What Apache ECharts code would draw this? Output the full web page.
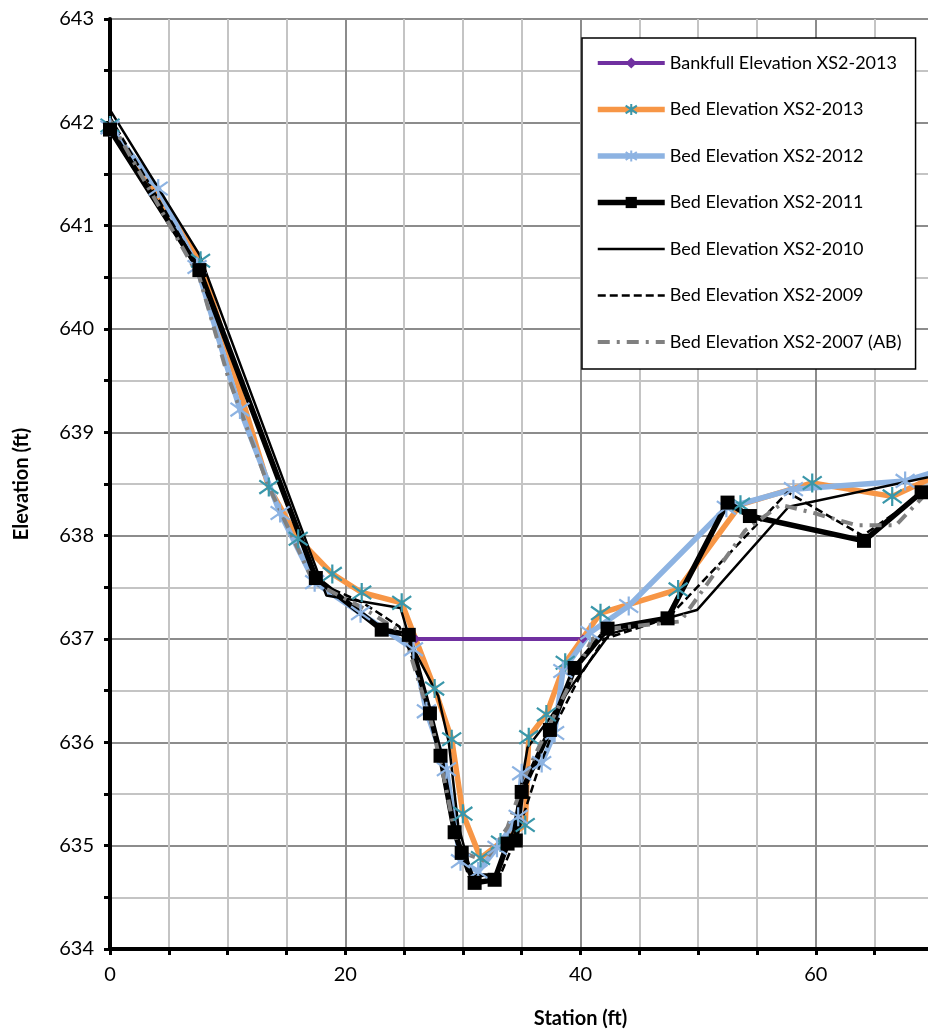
<!DOCTYPE html>
<html><head><meta charset="utf-8">
<script src="https://cdn.jsdelivr.net/npm/echarts@6/dist/echarts.min.js"></script>
<style>html,body{margin:0;padding:0;background:#fff}#c{width:928px;height:1033px}</style>
</head><body><div id="c"></div>
<script>
// ---- data (station ft, elevation ft) ----
const seriesNames = [
  'Bankfull Elevation XS2-2013',
  'Bed Elevation XS2-2013',
  'Bed Elevation XS2-2012',
  'Bed Elevation XS2-2011',
  'Bed Elevation XS2-2010',
  'Bed Elevation XS2-2009',
  'Bed Elevation XS2-2007 (AB)'
];
const bankfull2013 = [[26.0, 637.0], [40.2, 637.0]];
const bed2013 = [[0, 641.97], [7.7, 640.66], [13.5, 638.47], [16.0, 637.97], [18.9, 637.63], [21.4, 637.45],
  [24.8, 637.35], [27.6, 636.52], [29.05, 636.03], [30.0, 635.31], [31.5, 634.88], [33.2, 635.03],
  [35.3, 635.2], [35.6, 636.05], [37.1, 636.27], [38.7, 636.77], [41.7, 637.25], [48.3, 637.48],
  [53.6, 638.30], [59.7, 638.51], [66.5, 638.38], [71.0, 638.62]];
const bed2012 = [[0, 641.95], [4.1, 641.36], [7.4, 640.6], [11.05, 639.22], [14.46, 638.22], [17.4, 637.55],
  [21.3, 637.25], [25.8, 636.90], [26.9, 636.3], [28.6, 635.74], [29.8, 634.85], [31.3, 634.75],
  [32.9, 634.98], [34.7, 635.28], [35.0, 635.7], [36.7, 635.8], [37.8, 636.09], [38.5, 636.69],
  [40.8, 637.06], [44.1, 637.32], [52.4, 638.27], [58.1, 638.45], [67.6, 638.53], [71.0, 638.65]];
const bed2011 = [[0, 641.93], [7.6, 640.57], [17.5, 637.59], [23.1, 637.09], [25.4, 637.04], [27.2, 636.28],
  [28.1, 635.87], [29.3, 635.13], [29.9, 634.93], [31.0, 634.64], [32.7, 634.67], [33.8, 635.02],
  [34.5, 635.05], [35.0, 635.52], [37.4, 636.12], [39.5, 636.72], [42.3, 637.10], [47.4, 637.20],
  [52.5, 638.32], [54.4, 638.19], [64.1, 637.95], [69.0, 638.42]];
const bed2010 = [[0, 642.12], [7.6, 640.72], [18.4, 637.42], [24.7, 637.3], [25.6, 636.95], [27.9, 636.45],
  [28.8, 636.0], [29.6, 635.2], [30.75, 634.72], [32.9, 634.72], [34.3, 635.15], [35.5, 635.95],
  [37.5, 636.25], [39.6, 636.6], [42.5, 637.05], [49.9, 637.28], [57.7, 638.28], [71.0, 638.6]];
const bed2009 = [[0, 642.05], [7.5, 640.6], [17.6, 637.55], [21.5, 637.35], [24.6, 637.12], [25.6, 636.85],
  [27.4, 636.2], [28.3, 635.8], [29.5, 635.05], [30.5, 634.7], [33.2, 634.72], [34.6, 635.1],
  [36.3, 635.7], [38.0, 636.2], [40.0, 636.65], [42.0, 637.0], [47.4, 637.2], [57.6, 638.42],
  [64.0, 638.0], [69.0, 638.4], [71.0, 638.6]];
const bed2007 = [[0, 642.02], [7.6, 640.5], [10.0, 639.55], [13.4, 638.5], [17.3, 637.55], [21.5, 637.3],
  [25.0, 637.05], [27.3, 636.2], [28.5, 635.6], [29.6, 634.95], [31.9, 634.85], [33.8, 635.18],
  [35.4, 635.7], [37.5, 636.2], [41.0, 637.0], [42.5, 637.1], [48.5, 637.17], [54.0, 638.05],
  [57.0, 638.3], [59.8, 638.22], [63.5, 638.1], [66.8, 638.1], [71.0, 638.6]];

const FONT = 'Lato';
const asterisk = 'path://M10,0L10,20M3,3L17,17M3,17L17,3';

const chart = echarts.init(document.getElementById('c'), null, {renderer: 'canvas'});
chart.setOption({
  animation: false,
  backgroundColor: '#fff',
  textStyle: {fontFamily: FONT},
  grid: {left: 110, top: 19, width: 941, height: 930, containLabel: false, outerBoundsMode: 'none'},
  legend: {
    orient: 'vertical', left: 582, top: 38,
    padding: [16, 14, 18, 13],
    itemWidth: 67, itemHeight: 14, itemGap: 28.5,
    backgroundColor: '#fff', borderColor: '#000', borderWidth: 1.5, borderRadius: 0,
    textStyle: {fontFamily: FONT, fontSize: 18, color: '#000'},
    lineStyle: {width: 'inherit'},
    data: [
      {name: seriesNames[0]}, {name: seriesNames[1]}, {name: seriesNames[2]}, {name: seriesNames[3]},
      {name: seriesNames[4], itemStyle: {opacity: 0}},
      {name: seriesNames[5], itemStyle: {opacity: 0}},
      {name: seriesNames[6], itemStyle: {opacity: 0}}
    ]
  },
  xAxis: {
    type: 'value', min: 0, max: 80, interval: 20,
    name: 'Station (ft)', nameLocation: 'middle', nameGap: 60,
    nameTextStyle: {fontFamily: FONT, fontWeight: 'bold', fontSize: 20, color: '#000'},
    axisLine: {show: true, onZero: false, lineStyle: {color: '#000', width: 4}},
    axisTick: {show: true, length: 6, lineStyle: {color: '#000', width: 3}},
    minorTick: {show: true, splitNumber: 4, length: 6, lineStyle: {color: '#000', width: 3}},
    axisLabel: {fontFamily: FONT, fontSize: 20, color: '#000', margin: 16},
    splitLine: {show: true, lineStyle: {color: '#8c8c8c', width: 2}},
    minorSplitLine: {show: true, lineStyle: {color: '#c4c4c4', width: 2}}
  },
  yAxis: {
    type: 'value', min: 634, max: 643, interval: 1,
    name: 'Elevation (ft)', nameLocation: 'middle', nameGap: 78,
    nameTextStyle: {fontFamily: FONT, fontWeight: 'bold', fontSize: 20, color: '#000'},
    axisLine: {show: true, lineStyle: {color: '#000', width: 4}},
    axisTick: {show: true, length: 6, lineStyle: {color: '#000', width: 3}},
    minorTick: {show: true, splitNumber: 2, length: 6, lineStyle: {color: '#000', width: 3}},
    axisLabel: {fontFamily: FONT, fontSize: 20, color: '#000', margin: 16},
    splitLine: {show: true, lineStyle: {color: '#8c8c8c', width: 2}},
    minorSplitLine: {show: true, lineStyle: {color: '#c4c4c4', width: 2}}
  },
  series: [
    {name: seriesNames[0], type: 'line', data: bankfull2013, symbol: 'diamond', symbolSize: 9,
      lineStyle: {color: '#7030a0', width: 4}, itemStyle: {color: '#7030a0'}},
    {name: seriesNames[1], type: 'line', data: bed2013, symbol: asterisk, symbolSize: 19,
      lineStyle: {color: '#f79646', width: 5.5},
      itemStyle: {color: '#3a97aa', borderColor: '#3a97aa', borderWidth: 2.2}},
    {name: seriesNames[2], type: 'line', data: bed2012, symbol: asterisk, symbolSize: 19,
      lineStyle: {color: '#8db3e2', width: 5.5},
      itemStyle: {color: '#8db3e2', borderColor: '#8db3e2', borderWidth: 2.2}},
    {name: seriesNames[3], type: 'line', data: bed2011, symbol: 'rect', symbolSize: 14,
      lineStyle: {color: '#000', width: 5.5}, itemStyle: {color: '#000'}},
    {name: seriesNames[4], type: 'line', data: bed2010, symbol: 'circle', showSymbol: false,
      lineStyle: {color: '#000', width: 2.5}, itemStyle: {color: '#000'}},
    {name: seriesNames[5], type: 'line', data: bed2009, symbol: 'circle', showSymbol: false,
      lineStyle: {color: '#000', width: 2.5, type: [8, 4]}, itemStyle: {color: '#000'}},
    {name: seriesNames[6], type: 'line', data: bed2007, symbol: 'circle', showSymbol: false,
      lineStyle: {color: '#808080', width: 4, type: [12, 7, 3, 7]}, itemStyle: {color: '#808080'}}
  ]
});
</script>
</body></html>
